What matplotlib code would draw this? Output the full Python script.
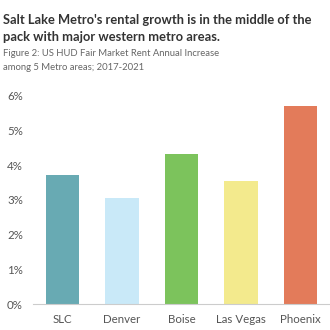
import matplotlib
matplotlib.use("Agg")
import matplotlib.pyplot as plt

categories = ["SLC", "Denver", "Boise", "Las Vegas", "Phoenix"]
values = [3.72, 3.05, 4.32, 3.55, 5.70]
colors = ["#68aab3", "#c9e9f8", "#7cc35c", "#f3ea8d", "#e37b5a"]
yticks = [0, 1, 2, 3, 4, 5, 6]
ytick_labels = ["0%", "1%", "2%", "3%", "4%", "5%", "6%"]
title_lines = ["Salt Lake Metro's rental growth is in the middle of the",
               "pack with major western metro areas."]
subtitle_lines = ["Figure 2: US HUD Fair Market Rent Annual Increase",
                  "among 5 Metro areas; 2017-2021"]

plt.rcParams['font.family'] = ['Lato', 'DejaVu Sans']

fig = plt.figure(figsize=(3.3, 3.3), dpi=100)
fig.patch.set_facecolor("white")
ax = fig.add_axes([33/330, 1-304.3/330, 297/330, (304.3-95.7)/330])

ax.bar(range(len(categories)), values, width=0.56, color=colors)
ax.set_xlim(-0.5, len(categories)-0.5)
ax.set_ylim(0, 6)
ax.set_yticks(yticks)
ax.set_yticklabels(ytick_labels)
ax.set_xticks(range(len(categories)))
ax.set_xticklabels(categories)
for s in ["top", "right", "left"]:
    ax.spines[s].set_visible(False)
ax.spines["bottom"].set_color("#cccccc")
ax.spines["bottom"].set_linewidth(0.8)
ax.spines["bottom"].set_linestyle((0, (1, 1)))
ax.tick_params(axis="both", length=0, labelsize=8.3, colors="#555555")
ax.tick_params(axis="x", pad=7)
ax.tick_params(axis="y", pad=0)
for lab in ax.get_yticklabels():
    lab.set_horizontalalignment("left")
    lab.set_transform(ax.get_yaxis_transform())
    lab.set_position((-26/297, 0))

for i, line in enumerate(title_lines):
    fig.text(3/330, 1-(20 + 17*i)/330, line, fontsize=9.3, fontweight="bold",
             color="#333333", va="center", ha="left")
for i, line in enumerate(subtitle_lines):
    fig.text(3/330, 1-(54 + 14*i)/330, line, fontsize=6.8,
             color="#666666", va="center", ha="left")

fig.savefig("out.png", dpi=100, facecolor="white")
